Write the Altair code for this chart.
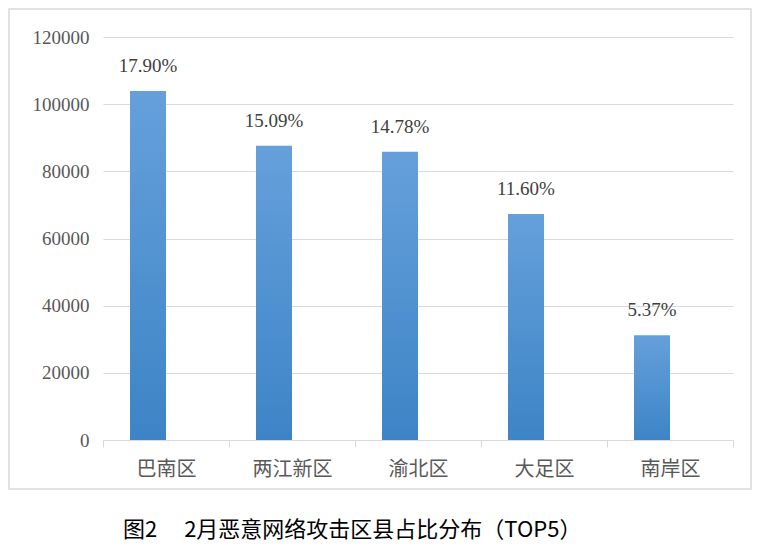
import altair as alt
import pandas as pd

districts = ["巴南区", "两江新区", "渝北区", "大足区", "南岸区"]
counts = [103900, 87600, 85800, 67300, 31200]
shares = ["17.90%", "15.09%", "14.78%", "11.60%", "5.37%"]
y_ticks = [0, 20000, 40000, 60000, 80000, 100000, 120000]
title_text = "图2　 2月恶意网络攻击区县占比分布（TOP5）"

SERIF = "Liberation Serif, DejaVu Serif, serif"

df = pd.DataFrame({"district": districts, "count": counts, "share": shares})

x = alt.X(
    "district:N", sort=districts, title=None,
    scale=alt.Scale(paddingInner=0, paddingOuter=0),
    axis=alt.Axis(labelAngle=0, labelFont="Noto Sans CJK SC", labelFontSize=20,
                  labelColor="#595959", labelPadding=12, domainColor="#d9d9d9",
                  tickColor="#d9d9d9", tickSize=7, tickBand="extent", grid=False),
)
y = alt.Y(
    "count:Q", title=None,
    scale=alt.Scale(domain=[0, 120000], nice=False),
    axis=alt.Axis(values=y_ticks, format="d", domain=False, ticks=False, labelPadding=14,
                  gridColor="#d9d9d9", labelFont=SERIF, labelFontSize=19,
                  labelColor="#595959"),
)

frame = alt.Chart(pd.DataFrame({"k": [0]})).mark_rect(
    fillOpacity=0, stroke="#d9d9d9", strokeWidth=1.5
).encode(x=alt.value(-94), x2=alt.value(648), y=alt.value(-28), y2=alt.value(452))

bars = alt.Chart(df).mark_bar(
    size=36, xOffset=-18,
    color=alt.Gradient(gradient="linear", x1=0, x2=0, y1=0, y2=1,
                       stops=[alt.GradientStop(color="#65a0db", offset=0),
                              alt.GradientStop(color="#3d84c6", offset=1)]),
).encode(x=x, y=y)

labels = alt.Chart(df).mark_text(
    dx=-18, dy=-19, baseline="alphabetic", font=SERIF, fontSize=19, color="#404040"
).encode(x=x, y=y, text="share:N")

chart = alt.layer(frame, bars, labels).properties(
    width=630, height=403,
    autosize=alt.AutoSizeParams(type="none"),
    padding={"left": 95, "top": 29, "right": 21, "bottom": 106},
    title=alt.TitleParams(title_text, orient="bottom", anchor="start", frame="group", dx=20, offset=30,
                          font="Noto Sans CJK SC", fontSize=22, fontWeight="normal", color="#000000"),
    background="white",
).configure_view(stroke=None)

chart.save("out.html", embed_options={"renderer": "svg", "actions": False})
